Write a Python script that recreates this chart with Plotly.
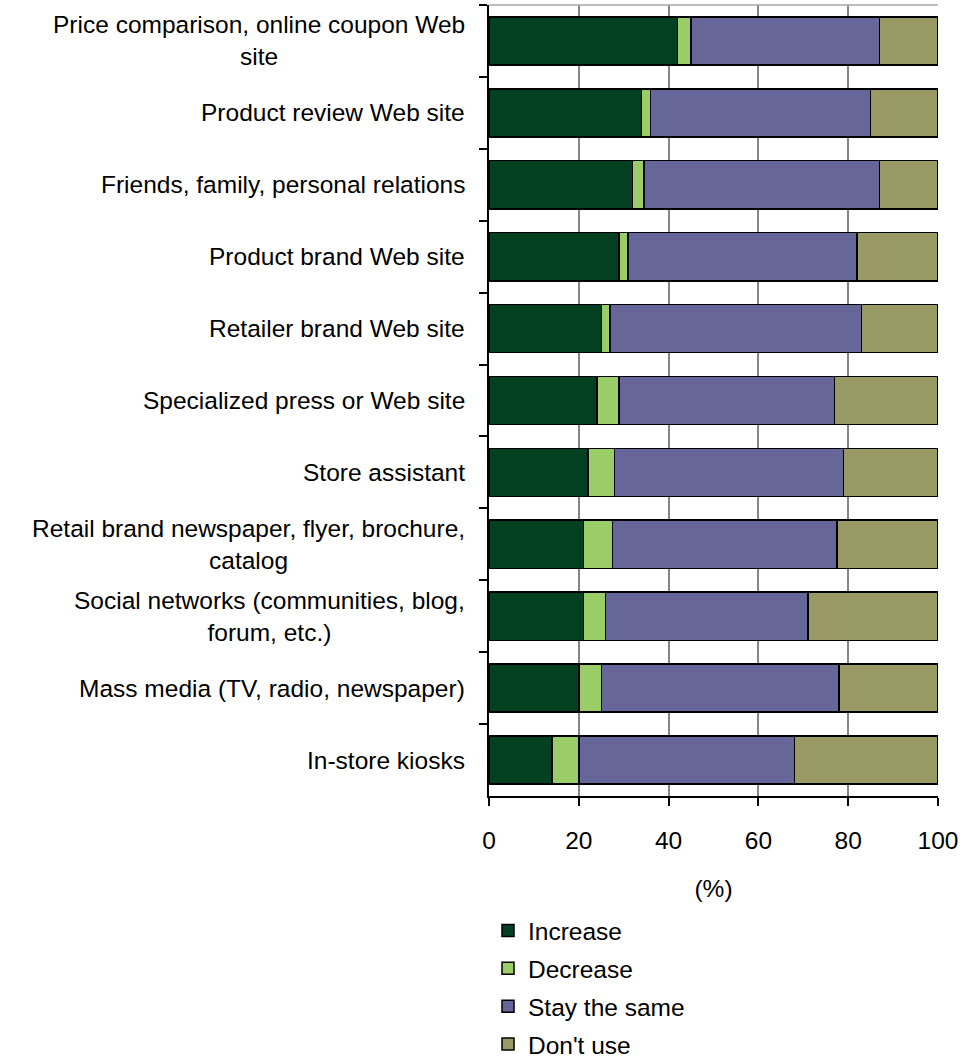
import plotly.graph_objects as go

categories = [
    "Price comparison, online coupon Web<br>site",
    "Product review Web site",
    "Friends, family, personal relations",
    "Product brand Web site",
    "Retailer brand Web site",
    "Specialized press or Web site",
    "Store assistant",
    "Retail brand newspaper, flyer, brochure,<br>catalog",
    "Social networks (communities, blog,<br>forum, etc.)",
    "Mass media (TV, radio, newspaper)",
    "In-store kiosks",
]

increase = [42, 34, 32, 29, 25, 24, 22, 21, 21, 20, 14]
decrease = [3, 2, 2.5, 2, 2, 5, 6, 6.5, 5, 5, 6]
stay_same = [42, 49, 52.5, 51, 56, 48, 51, 50, 45, 53, 48]
dont_use = [13, 15, 13, 18, 17, 23, 21, 22.5, 29, 22, 32]

x_ticks = [0, 20, 40, 60, 80, 100]

series = [
    ("Increase", increase, "#034021"),
    ("Decrease", decrease, "#9acd68"),
    ("Stay the same", stay_same, "#666699"),
    ("Don't use", dont_use, "#999966"),
]

FONT = "Liberation Sans, Arial, sans-serif"
FS = 24.5

fig = go.Figure()
for i, (name, vals, color) in enumerate(series):
    fig.add_trace(go.Bar(
        y=categories,
        x=vals,
        name=name,
        orientation="h",
        legendgroup=f"g{i}",
        marker=dict(color=color, line=dict(color="#000000", width=1.5)),
    ))

# category labels, right-aligned block with centred lines
for cat in categories:
    fig.add_annotation(
        x=0, xref="paper", xanchor="right", xshift=-22,
        y=cat, yref="y", yanchor="middle",
        text=cat, showarrow=False, align="center",
        font=dict(family=FONT, size=FS, color="#000000"),
    )

# light frame along the top of the plot area
fig.add_shape(type="line", xref="paper", yref="paper", x0=0, x1=1, y0=1, y1=1,
              line=dict(color="#a6a6a6", width=1.5))

fig.update_layout(
    width=966, height=1060,
    margin=dict(l=489, r=28, t=5, b=264, autoexpand=False),
    paper_bgcolor="white", plot_bgcolor="white",
    barmode="stack", bargap=0.33,
    font=dict(family=FONT, size=FS, color="#000000"),
    showlegend=True,
    legend=dict(
        orientation="v", traceorder="grouped",
        x=(488 - 489) / 449, xanchor="left",
        y=-(908 - 796) / 791, yanchor="top",
        font=dict(family=FONT, size=FS, color="#000000"),
        tracegroupgap=3,
        bgcolor="rgba(0,0,0,0)",
    ),
    xaxis=dict(
        range=[0, 100], tickvals=x_ticks, ticktext=[str(t) for t in x_ticks],
        showgrid=True, gridcolor="#868686", gridwidth=1.5,
        zeroline=False,
        showline=True, linecolor="#000000", linewidth=2,
        ticks="outside", ticklen=8, tickwidth=1.5, tickcolor="#000000",
        ticklabelstandoff=14,
        tickfont=dict(family=FONT, size=FS, color="#000000"),
        title=dict(text="(%)", standoff=26, font=dict(family=FONT, size=FS, color="#000000")),
    ),
    yaxis=dict(
        categoryorder="array", categoryarray=categories, autorange="reversed",
        showticklabels=False,
        showline=True, linecolor="#000000", linewidth=2,
        ticks="outside", ticklen=8, tickwidth=1.5, tickcolor="#000000",
        tickson="boundaries", showgrid=False,
    ),
)

fig.write_html("out.html")
